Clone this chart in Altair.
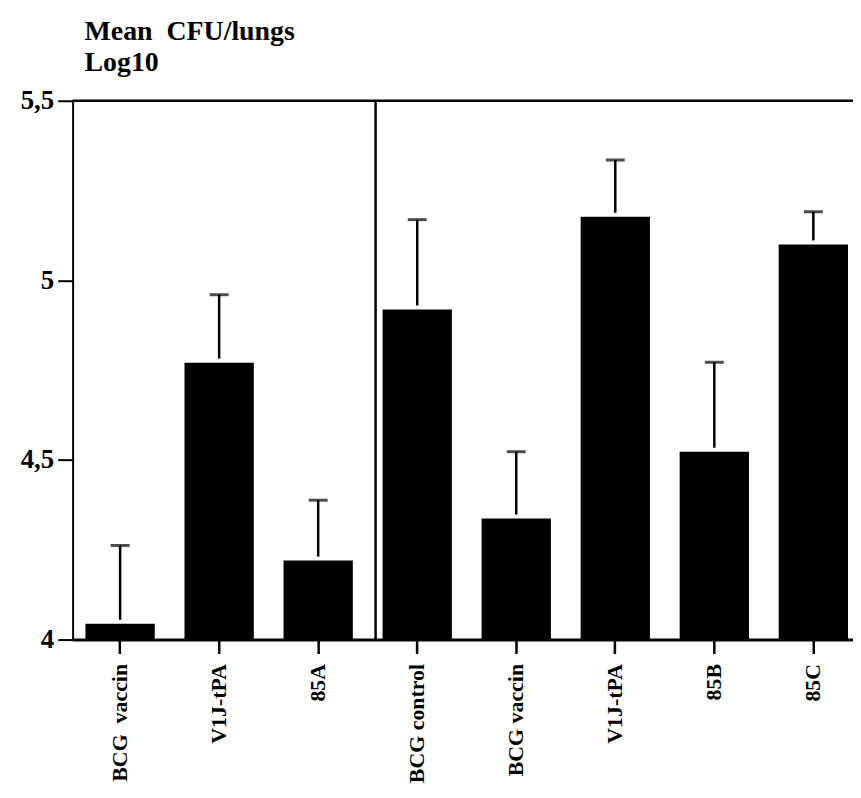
import json
import altair as alt
import pandas as pd

# ---- data ----
labels = ["BCG\u00a0\u00a0vaccin", "V1J-tPA", "85A", "BCG control",
          "BCG vaccin", "V1J-tPA", "85B", "85C"]
means = [4.044, 4.771, 4.220, 4.919, 4.337, 5.177, 4.523, 5.100]
uppers = [4.262, 4.960, 4.388, 5.169, 4.523, 5.335, 4.772, 5.191]
y_ticks = [4, 4.5, 5, 5.5]
y_tick_labels = ["4", "4,5", "5", "5,5"]
title_lines = ["Mean\u00a0\u00a0CFU/lungs", "Log10"]

keys = [str(i) for i in range(len(labels))]
df = pd.DataFrame({"key": keys, "label": labels, "mean": means, "upper": uppers})

FONT = "Liberation Serif"
W, H = 785, 542

x_label_expr = json.dumps(labels, ensure_ascii=False) + "[toNumber(datum.value)]"
y_label_expr = (json.dumps(y_tick_labels) + "[indexof(" + json.dumps(y_ticks) + ", datum.value)]")

x_enc = alt.X(
    "key:N",
    sort=keys,
    scale=alt.Scale(domain=keys, paddingInner=0.3, paddingOuter=0.09, align=0.72),
    axis=alt.Axis(
        title=None, labelExpr=x_label_expr, labelAngle=-90, labelFontSize=22,
        labelPadding=10, tickSize=14, tickWidth=2.5, domainWidth=3,
    ),
)
y_scale = alt.Scale(domain=[4, 5.5], nice=False, zero=False)
y_axis = alt.Axis(
    title=None, values=y_ticks, labelExpr=y_label_expr, labelFontSize=27,
    labelPadding=4, tickSize=15, tickWidth=2, domainWidth=2,
)

base = alt.Chart(df)

bars = base.mark_bar(color="black").encode(
    x=x_enc,
    y=alt.Y("mean:Q", scale=y_scale, axis=y_axis),
    y2=alt.datum(4),
)
err = base.mark_rule(color="black", strokeWidth=2.5, y2Offset=-4).encode(
    x=alt.X("key:N"),
    y=alt.Y("upper:Q"),
    y2=alt.Y2("mean:Q"),
)
caps = base.mark_tick(color="black", thickness=3, size=19).encode(
    x=alt.X("key:N"),
    y=alt.Y("upper:Q"),
)
top_line = alt.Chart(pd.DataFrame({"v": [5.5]})).mark_rule(
    color="black", strokeWidth=2.5
).encode(y=alt.Y("v:Q"))
divider = alt.Chart(pd.DataFrame({"k": ["3"]})).mark_rule(
    color="black", strokeWidth=2.5, xOffset=-7
).encode(x=alt.X("k:N", bandPosition=0))

chart = (
    alt.layer(bars, err, caps, top_line, divider)
    .properties(
        width=W,
        height=H,
        autosize=alt.AutoSizeParams(type="none"),
        padding={"left": 65, "top": 91, "right": 0, "bottom": 149},
        title=alt.TitleParams(
            text=title_lines, anchor="start", frame="group", dx=12,
            fontSize=28, font=FONT, fontWeight="bold", lineHeight=31,
            offset=10, color="black",
        ),
    )
    .configure_view(stroke=None)
    .configure_axis(
        grid=False, domainColor="black", tickColor="black", labelColor="black",
        labelFont=FONT, labelFontWeight="bold",
    )
)

chart.save("out.html", embed_options={"renderer": "svg", "actions": False})
